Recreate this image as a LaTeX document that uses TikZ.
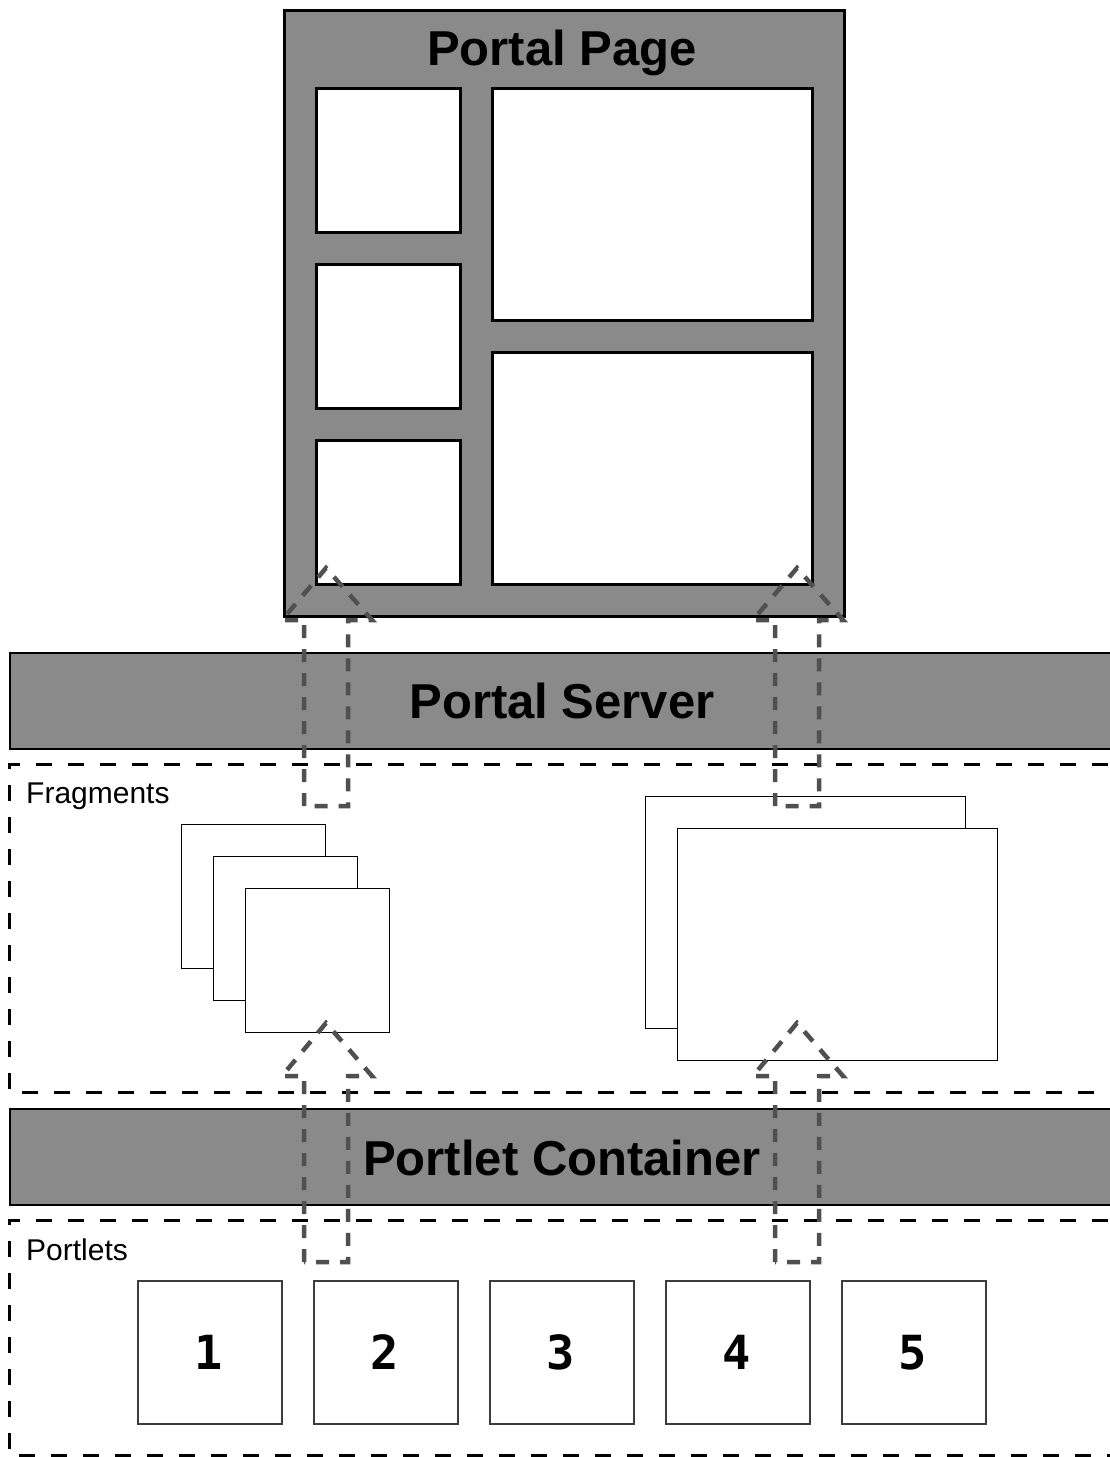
\documentclass[tikz,border=0pt]{standalone}
\usepackage{fontspec}
\setmainfont{Liberation Sans}
\newfontfamily\numfont{DejaVu Sans Mono}
\definecolor{bandgray}{RGB}{138,138,138}
\definecolor{flowgray}{RGB}{80,80,80}
\definecolor{boxgray}{RGB}{60,60,60}
\newcommand\flowarrow[4]{% #1 centre x, #2 tip y, #3 wing y, #4 bottom y
  \draw[flow] (#1-22,#4) -- (#1-22,#3) -- (#1-44,#3) -- (#1,#2) -- (#1+46,#3) -- (#1+22,#3) -- (#1+22,#4) -- cycle;}
\begin{document}
\begin{tikzpicture}[x=1pt,y=-1pt,
  page/.style={draw=black, line width=3pt, fill=bandgray, inner sep=0pt, anchor=north west},
  slot/.style={draw=black, line width=3pt, fill=white, inner sep=0pt, anchor=north west},
  band/.style={draw=black, line width=2pt, fill=bandgray, inner sep=0pt, anchor=north west},
  region/.style={draw=black, line width=3pt, dash pattern=on 16pt off 16pt},
  frag/.style={draw=black, line width=1.3pt, fill=white, inner sep=0pt, anchor=north west},
  portlet/.style={draw=boxgray, line width=2pt, fill=white, inner sep=0pt, anchor=north west, minimum width=144pt, minimum height=143pt},
  bigtitle/.style={font=\fontsize{49}{56}\selectfont\bfseries, inner sep=0pt, anchor=base},
  label/.style={font=\fontsize{30}{34}\selectfont, inner sep=0pt, anchor=base west},
  num/.style={font=\fontsize{47}{52}\selectfont\numfont\bfseries, inner sep=0pt, anchor=base},
  flow/.style={draw=flowgray, line width=4.5pt, dash pattern=on 13pt off 11pt, line join=miter}
]
\useasboundingbox (0,0) rectangle (1110,1457);

% Portal page
\node[page, minimum width=560pt, minimum height=606pt] (page) at (283,9) {};
\node[bigtitle] (pagetitle) at (562,65) {Portal Page};
\node[slot, minimum width=144pt, minimum height=144pt] (s1) at (315,87) {};
\node[slot, minimum width=144pt, minimum height=144pt] (s2) at (315,263) {};
\node[slot, minimum width=144pt, minimum height=144pt] (s3) at (315,439) {};
\node[slot, minimum width=320pt, minimum height=232pt] (s4) at (491,87) {};
\node[slot, minimum width=320pt, minimum height=232pt] (s5) at (491,351) {};

% Portal server band
\node[band, minimum width=1120pt, minimum height=96pt] (server) at (9,652) {};
\node[bigtitle] (servertitle) at (562,718) {Portal Server};

% Fragments region
\draw[region] (1140,764) -- (9,764) -- (9,1092) -- (1140,1092);
\node[label] (fraglabel) at (26,803) {Fragments};
\node[frag, minimum width=144pt, minimum height=144pt] (f1) at (181,824) {};
\node[frag, minimum width=144pt, minimum height=144pt] (f2) at (213,856) {};
\node[frag, minimum width=144pt, minimum height=144pt] (f3) at (245,888) {};
\node[frag, minimum width=320pt, minimum height=232pt] (f4) at (645,796) {};
\node[frag, minimum width=320pt, minimum height=232pt] (f5) at (677,828) {};

% Portlet container band
\node[band, minimum width=1120pt, minimum height=96pt] (container) at (9,1108) {};
\node[bigtitle] (containertitle) at (562,1175) {Portlet Container};

% Portlets region
\draw[region] (1140,1220) -- (9,1220) -- (9,1455) -- (1140,1455);
\node[label] (portletlabel) at (26,1260) {Portlets};
\foreach \i/\x in {1/137,2/313,3/489,4/665,5/841} {
  \node[portlet] (p\i) at (\x,1280) {};
  \node[num] (n\i) at (\x+72,1369) {\i};
}

% Flow arrows
\flowarrow{326}{568}{620}{806}
\flowarrow{797}{568}{620}{806}
\flowarrow{326}{1023}{1076}{1262}
\flowarrow{797}{1023}{1076}{1262}
\end{tikzpicture}
\end{document}
